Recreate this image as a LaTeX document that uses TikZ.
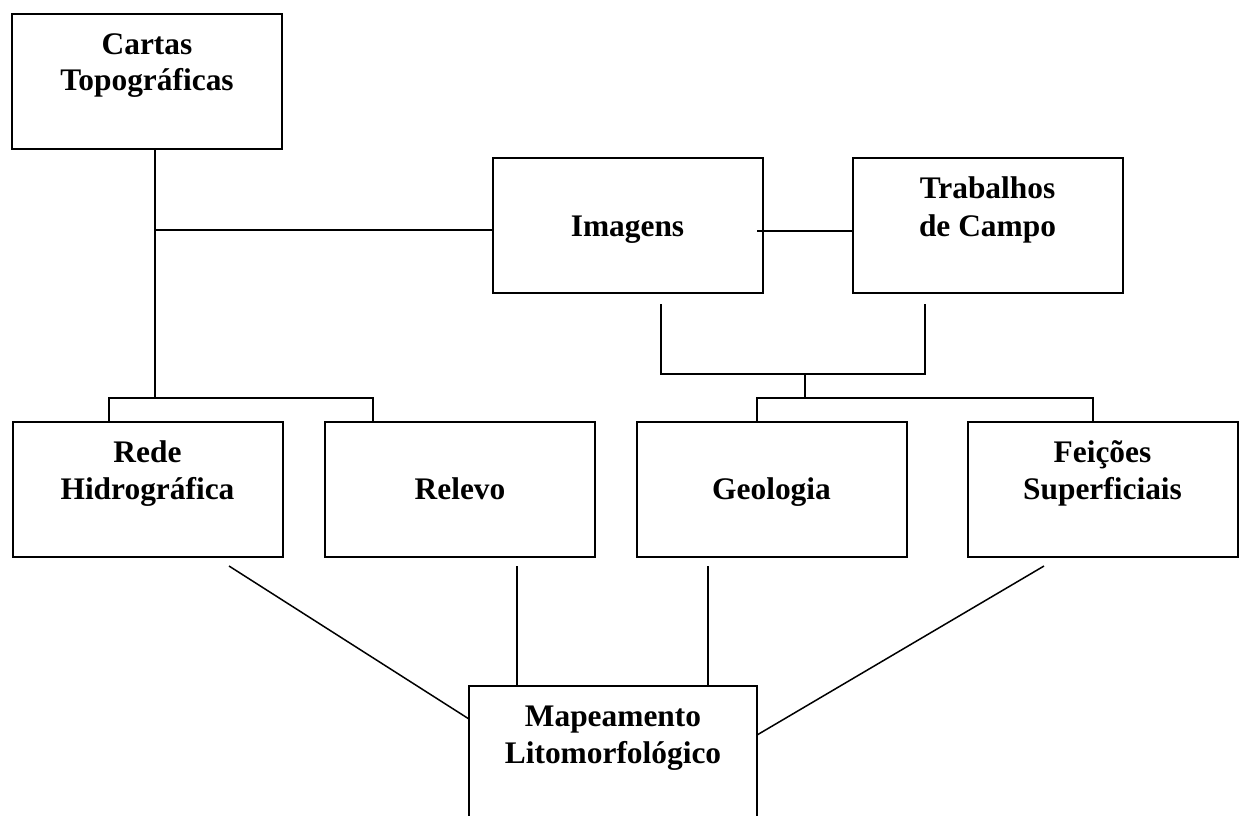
\documentclass[tikz,border=0pt]{standalone}
\usepackage{fontspec}
\setmainfont{Liberation Serif}
\begin{document}
\begin{tikzpicture}[x=1pt,y=-1pt,
  box/.style={draw, line width=2pt, minimum width=270pt, minimum height=135pt, inner sep=0pt},
  lbl/.style={font=\fontsize{31.4}{36}\selectfont\bfseries, anchor=base, inner sep=0pt},
  conn/.style={line width=1.5pt}]
\useasboundingbox (0,0) rectangle (1242,815);
\clip (0,0) rectangle (1242,815);

% boxes
\node[box] (cartas) at (147,81.5) {};
\node[box] (imagens) at (627.5,225.5) {};
\node[box] (trabalhos) at (987.5,225.5) {};
\node[box] (rede) at (147.5,489.5) {};
\node[box] (relevo) at (460,489.5) {};
\node[box] (geologia) at (771.5,489.5) {};
\node[box] (feicoes) at (1102.5,489.5) {};
\node[box, minimum width=288pt, minimum height=200pt] (mapa) at (613,786) {};

% labels
\node[lbl] (tCartas1) at (147,54) {Cartas};
\node[lbl] (tCartas2) at (147,90) {Topográficas};
\node[lbl] (tImagens) at (627.5,236) {Imagens};
\node[lbl] (tTrab1) at (987.5,198) {Trabalhos};
\node[lbl] (tTrab2) at (987.5,236) {de Campo};
\node[lbl] (tRede1) at (147.5,462) {Rede};
\node[lbl] (tRede2) at (147.5,499) {Hidrográfica};
\node[lbl] (tRelevo) at (460,499) {Relevo};
\node[lbl] (tGeo) at (771.5,499) {Geologia};
\node[lbl] (tFei1) at (1102.5,462) {Feições};
\node[lbl] (tFei2) at (1102.5,499) {Superficiais};
\node[lbl] (tMap1) at (613,726) {Mapeamento};
\node[lbl] (tMap2) at (613,763) {Litomorfológico};

% junction coordinates
\coordinate (jA) at (155,230);
\coordinate (jB) at (155,398);
\coordinate (jRede) at (109,398);
\coordinate (jRelevo) at (373,398);
\coordinate (jC) at (757,231);
\coordinate (sI) at (661,304);
\coordinate (sT) at (925,304);
\coordinate (hI) at (661,374);
\coordinate (hT) at (925,374);
\coordinate (jM) at (805,374);
\coordinate (jM2) at (805,398);
\coordinate (jG) at (757,398);
\coordinate (jF) at (1093,398);
\coordinate (bRede) at (229,566);
\coordinate (bRelevo) at (517,566);
\coordinate (bGeo) at (708,566);
\coordinate (bFei) at (1044,566);
\coordinate (mL) at (469,719);
\coordinate (mR) at (757,735);

% upper connectors
\draw[conn] (cartas.south -| jA) -- (jB);
\draw[conn] (jRede |- rede.north) -- (jRede) -- (jRelevo) -- (jRelevo |- relevo.north);
\draw[conn] (jA) -- (jA -| imagens.west);
\draw[conn] (jC) -- (jC -| trabalhos.west);
\draw[conn] (sI) -- (hI) -- (hT) -- (sT);
\draw[conn] (jM) -- (jM2);
\draw[conn] (jG |- geologia.north) -- (jG) -- (jF) -- (jF |- feicoes.north);

% lower connectors
\draw[conn] (bRede) -- (mL);
\draw[conn] (bRelevo) -- (bRelevo |- mapa.north);
\draw[conn] (bGeo) -- (bGeo |- mapa.north);
\draw[conn] (bFei) -- (mR);
\end{tikzpicture}
\end{document}
